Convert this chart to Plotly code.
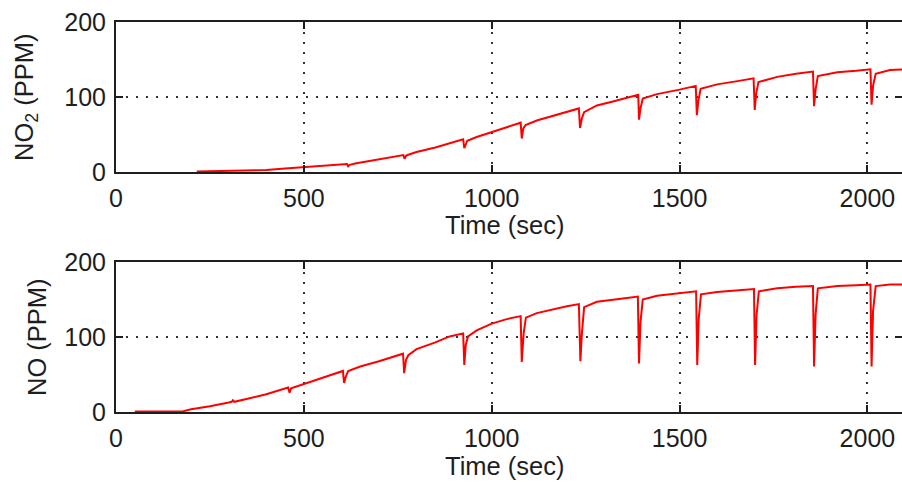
import plotly.graph_objects as go

# NO2 concentration trace (seconds, ppm)
no2_time = [215, 300, 400, 450, 500, 560, 615, 618, 622, 640, 700, 765, 768, 772, 776,
            800, 850, 900, 924, 927, 931, 935, 960, 1000, 1040, 1077, 1080, 1084, 1090,
            1120, 1160, 1200, 1232, 1235, 1240, 1246, 1280, 1320, 1360, 1390, 1392, 1396,
            1402, 1440, 1500, 1543, 1546, 1550, 1556, 1600, 1650, 1697, 1700, 1704, 1710,
            1760, 1810, 1855, 1858, 1862, 1868, 1920, 1970, 2008, 2011, 2015, 2022, 2060, 2095]
no2_ppm = [1, 1.5, 3, 5, 7, 9, 11, 8, 10, 12, 17, 23, 18, 22, 23,
           27, 33, 40, 44, 32, 38, 42, 47, 54, 60, 66, 45, 58, 63,
           69, 75, 80, 85, 59, 72, 80, 89, 94, 99, 103, 70, 85,
           98, 104, 110, 115, 76, 95, 111, 117, 121, 125, 83, 105, 120,
           127, 131, 134, 88, 110, 128, 133, 135, 137, 90, 115, 131, 136, 137]

# NO concentration trace (seconds, ppm)
no_time = [50, 100, 179, 200, 250, 300, 308, 311, 315, 350, 400, 458, 462, 466, 500, 550,
           604, 607, 612, 618, 650, 700, 764, 767, 772, 778, 800, 850, 888, 924, 927, 931,
           937, 960, 1000, 1040, 1077, 1080, 1085, 1091, 1120, 1160, 1200, 1232, 1236, 1240,
           1246, 1280, 1320, 1360, 1389, 1392, 1396, 1402, 1440, 1500, 1544, 1547, 1551, 1557,
           1600, 1650, 1698, 1701, 1705, 1711, 1760, 1810, 1855, 1858, 1862, 1868, 1920, 1970,
           2008, 2011, 2015, 2022, 2060, 2095]
no_ppm = [1, 1, 1.5, 4, 8, 13, 14, 16, 14, 18, 24, 33, 26, 32, 38, 46,
          55, 39, 48, 55, 61, 68, 78, 52, 70, 76, 84, 93, 101, 105, 63, 90,
          101, 109, 118, 124, 128, 67, 105, 126, 132, 137, 141, 144, 68, 105,
          140, 147, 150, 152, 154, 65, 120, 150, 155, 158, 161, 63, 125, 157,
          160, 162, 164, 63, 130, 161, 165, 167, 168, 61, 130, 165, 168, 169,
          170, 61, 135, 168, 170, 170]

x_ticks = [0, 500, 1000, 1500, 2000]
y_ticks = [0, 100, 200]
x_title = "Time (sec)"
y_titles = ["NO<sub>2</sub> (PPM)", "NO (PPM)"]

W, H = 902, 483
FONT = "Liberation Sans, Arial, sans-serif"
INK = "#1e1e1e"
LEFT, RIGHT = 116, 902
panels = [(22, 172.3), (262, 412.3)]  # top/bottom pixel rows of each plot box

fig = go.Figure()
fig.add_trace(go.Scatter(x=no2_time, y=no2_ppm, mode="lines",
                         line=dict(color="#ff0000", width=2), xaxis="x", yaxis="y",
                         showlegend=False, hoverinfo="skip"))
fig.add_trace(go.Scatter(x=no_time, y=no_ppm, mode="lines",
                         line=dict(color="#ff0000", width=2), xaxis="x2", yaxis="y2",
                         showlegend=False, hoverinfo="skip"))
# empty traces that carry the right-hand tick axes
fig.add_trace(go.Scatter(x=[], y=[], xaxis="x", yaxis="y3", showlegend=False, hoverinfo="skip"))
fig.add_trace(go.Scatter(x=[], y=[], xaxis="x2", yaxis="y4", showlegend=False, hoverinfo="skip"))

xdom = [LEFT / W, RIGHT / W]
common_x = dict(range=[0, 2092], domain=xdom, tickvals=x_ticks, ticks="inside", ticklen=7,
                tickwidth=2, tickcolor=INK, showline=True, linewidth=2, linecolor=INK,
                mirror="ticks", showgrid=True, gridcolor="#333333", gridwidth=1.5,
                griddash="2px,8px", zeroline=False, automargin=False,
                tickfont=dict(family=FONT, size=25, color=INK), ticklabelstandoff=3)
common_y = dict(range=[0, 200], tickvals=y_ticks, ticks="inside", ticklen=7, tickwidth=2,
                tickcolor=INK, showline=True, linewidth=2, linecolor=INK, mirror=False,
                showgrid=True, gridcolor="#333333", gridwidth=1.5, griddash="2px,8px",
                zeroline=False, automargin=False,
                tickfont=dict(family=FONT, size=25, color=INK), ticklabelstandoff=3)
right_y = dict(range=[0, 200], tickvals=y_ticks, ticks="inside", ticklen=7, tickwidth=2,
               tickcolor=INK, showline=False, showgrid=False, zeroline=False,
               showticklabels=False, side="right", automargin=False)

doms = [[1 - b / H, 1 - t / H] for t, b in panels]
fig.update_layout(
    template="none",
    width=W, height=H, margin=dict(l=0, r=0, t=0, b=0, pad=0),
    paper_bgcolor="white", plot_bgcolor="white",
    xaxis=dict(common_x, anchor="y"),
    yaxis=dict(common_y, domain=doms[0], anchor="x"),
    xaxis2=dict(common_x, anchor="y2"),
    yaxis2=dict(common_y, domain=doms[1], anchor="x2"),
    yaxis3=dict(right_y, overlaying="y", anchor="x"),
    yaxis4=dict(right_y, overlaying="y2", anchor="x2"),
)

# axis titles
for cy in (225, 466):
    fig.add_annotation(text=x_title, xref="paper", yref="paper", x=505 / W, y=1 - cy / H,
                       xanchor="center", yanchor="middle", showarrow=False,
                       font=dict(family=FONT, size=25.5, color=INK))
fig.add_annotation(text=y_titles[0], xref="paper", yref="paper", x=26 / W, y=1 - 97 / H,
                   xanchor="center", yanchor="middle", showarrow=False, textangle=-90,
                   font=dict(family=FONT, size=25.5, color=INK))
fig.add_annotation(text=y_titles[1], xref="paper", yref="paper", x=37 / W, y=1 - 337 / H,
                   xanchor="center", yanchor="middle", showarrow=False, textangle=-90,
                   font=dict(family=FONT, size=25.5, color=INK))

fig.write_html("out.html")
